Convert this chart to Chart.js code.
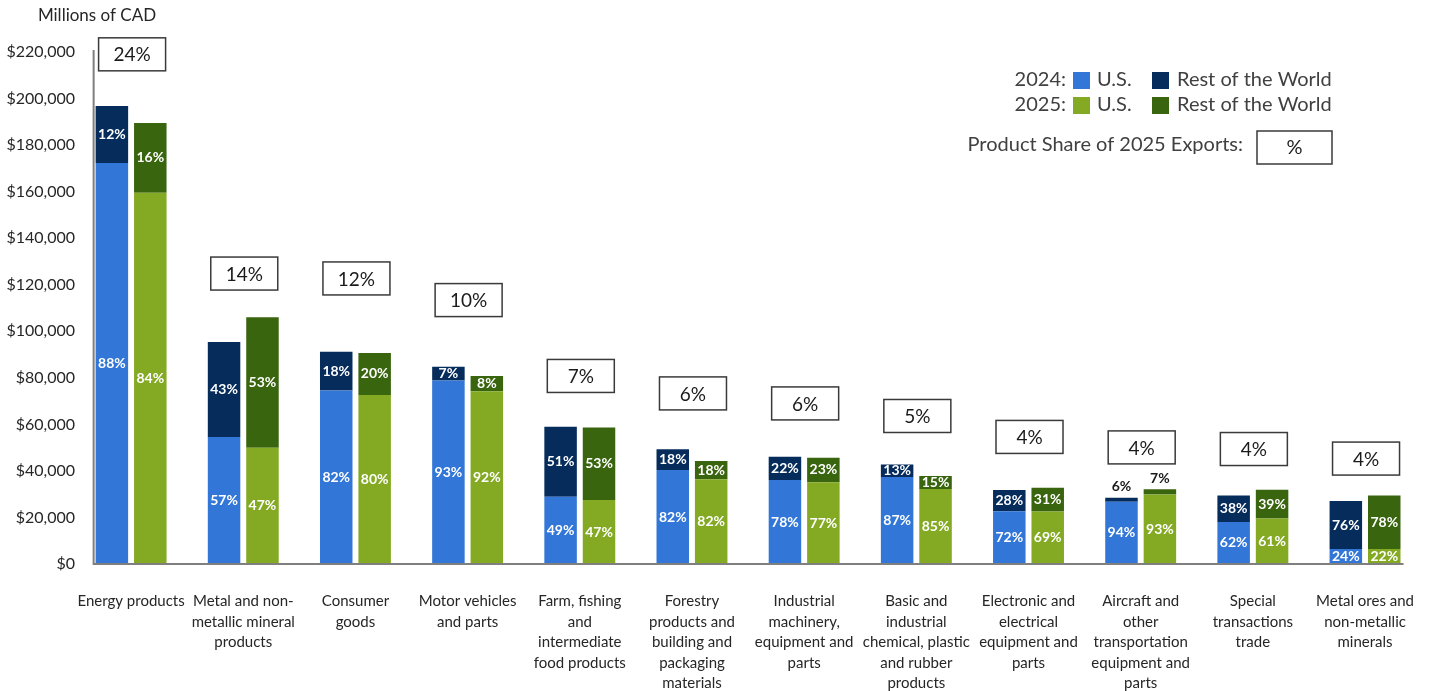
<!DOCTYPE html>
<html>
<head>
<meta charset="utf-8">
<title>Canadian exports by product, 2024 and 2025</title>
<script src="https://cdn.jsdelivr.net/npm/chart.js@4.4.1/dist/chart.umd.min.js"></script>
<style>
  html, body { margin: 0; padding: 0; background: #fff; }
  #wrap { width: 1441px; height: 691px; position: relative; }
</style>
</head>
<body>
<div id="wrap"><canvas id="exportsChart"></canvas></div>
<script>
// categories, each label split into its printed lines
const categories = [
  ['Energy products'],
  ['Metal and non-', 'metallic mineral', 'products'],
  ['Consumer', 'goods'],
  ['Motor vehicles', 'and parts'],
  ['Farm, fishing', 'and', 'intermediate', 'food products'],
  ['Forestry', 'products and', 'building and', 'packaging', 'materials'],
  ['Industrial', 'machinery,', 'equipment and', 'parts'],
  ['Basic and', 'industrial', 'chemical, plastic', 'and rubber', 'products'],
  ['Electronic and', 'electrical', 'equipment and', 'parts'],
  ['Aircraft and', 'other', 'transportation', 'equipment and', 'parts'],
  ['Special', 'transactions', 'trade'],
  ['Metal ores and', 'non-metallic', 'minerals']
];

// millions of CAD
const us2024  = [172300, 54600, 74600, 78800, 28900, 40400, 36100, 37400, 22700, 26700, 18100, 6400];
const row2024 = [24500, 40800, 16600, 6000, 30100, 8900, 10000, 5400, 9100, 1800, 11300, 20700];
const us2025  = [159500, 50000, 72600, 74200, 27500, 36400, 35100, 32200, 22600, 29900, 19500, 6400];
const row2025 = [30000, 56000, 18100, 6600, 31100, 7900, 10600, 5600, 10200, 2200, 12400, 23000];

// printed percentage labels
const pctUS2024  = [88, 57, 82, 93, 49, 82, 78, 87, 72, 94, 62, 24];
const pctRow2024 = [12, 43, 18, 7, 51, 18, 22, 13, 28, 6, 38, 76];
const pctUS2025  = [84, 47, 80, 92, 47, 82, 77, 85, 69, 93, 61, 22];
const pctRow2025 = [16, 53, 20, 8, 53, 18, 23, 15, 31, 7, 39, 78];
const share2025  = [24, 14, 12, 10, 7, 6, 6, 5, 4, 4, 4, 4];

const yTicks = [0, 20000, 40000, 60000, 80000, 100000, 120000, 140000, 160000, 180000, 200000, 220000];

// where each share box sits, in millions of CAD (y value of the box centre)
const shareBoxAt = [219000, 124800, 122700, 113400, 80800, 73300, 69000, 63600, 54600, 50100, 49400, 45300];

const FONT = 'Lato, "Open Sans", sans-serif';
const colors = {
  us2024: '#3276d8',
  row2024: '#062c5c',
  us2025: '#84aa24',
  row2025: '#3a650f'
};

const overlay = {
  id: 'overlay',
  afterDraw(chart) {
    const ctx = chart.ctx;
    const xs = chart.scales.x;
    const ys = chart.scales.y;
    ctx.save();

    // axis lines
    const firstBar = chart.getDatasetMeta(0).data[0];
    const lastBar = chart.getDatasetMeta(2).data[categories.length - 1];
    const axisLeft = firstBar.x - firstBar.width / 2 - 2;
    const axisRight = lastBar.x + lastBar.width / 2 + 3;
    const y0 = ys.getPixelForValue(0);
    ctx.strokeStyle = '#7f7f7f';
    ctx.lineWidth = 2;
    ctx.beginPath();
    ctx.moveTo(axisLeft, ys.getPixelForValue(220000) - 2);
    ctx.lineTo(axisLeft, y0);
    ctx.lineTo(axisRight, y0);
    ctx.stroke();

    // percentage labels in the bars
    const pctSets = [pctUS2024, pctRow2024, pctUS2025, pctRow2025];
    ctx.font = 'bold 14px ' + FONT;
    ctx.textAlign = 'center';
    ctx.textBaseline = 'middle';
    pctSets.forEach((pcts, di) => {
      chart.getDatasetMeta(di).data.forEach((bar, i) => {
        const top = Math.min(bar.y, bar.base);
        const bottom = Math.max(bar.y, bar.base);
        if (bottom - top < 10) {
          ctx.fillStyle = '#1a1a1a';
          ctx.fillText(pcts[i] + '%', bar.x, top - 11);
        } else {
          ctx.fillStyle = '#ffffff';
          ctx.fillText(pcts[i] + '%', bar.x, (top + bottom) / 2);
        }
      });
    });

    // product share boxes
    ctx.font = '19px ' + FONT;
    share2025.forEach((s, i) => {
      const cx = xs.getPixelForValue(i) + 1;
      const cy = ys.getPixelForValue(shareBoxAt[i]);
      ctx.fillStyle = '#fff';
      ctx.fillRect(cx - 33.5, cy - 16.5, 67, 33);
      ctx.strokeStyle = '#3a3a3a';
      ctx.lineWidth = 1.5;
      ctx.strokeRect(cx - 33.5, cy - 16.5, 67, 33);
      ctx.fillStyle = '#1a1a1a';
      ctx.fillText(s + '%', cx, cy + 1);
    });

    // unit title
    ctx.font = '17px ' + FONT;
    ctx.fillStyle = '#262626';
    ctx.fillText('Millions of CAD', 97, 16);

    // legend
    ctx.font = '20px ' + FONT;
    const rows = [
      { year: '2024:', y: 80, c1: colors.us2024, c2: colors.row2024 },
      { year: '2025:', y: 105, c1: colors.us2025, c2: colors.row2025 }
    ];
    rows.forEach(r => {
      ctx.fillStyle = '#404040';
      ctx.textAlign = 'right';
      ctx.fillText(r.year, 1066, r.y);
      ctx.textAlign = 'left';
      ctx.fillText('U.S.', 1097, r.y);
      ctx.fillText('Rest of the World', 1177, r.y);
      ctx.fillStyle = r.c1;
      ctx.fillRect(1073, r.y - 8, 17, 17);
      ctx.fillStyle = r.c2;
      ctx.fillRect(1152, r.y - 8, 17, 17);
    });
    ctx.fillStyle = '#404040';
    ctx.textAlign = 'right';
    ctx.fillText('Product Share of 2025 Exports:', 1243, 145);
    ctx.strokeStyle = '#3a3a3a';
    ctx.lineWidth = 1.5;
    ctx.strokeRect(1257, 131, 75, 33);
    ctx.textAlign = 'center';
    ctx.fillStyle = '#1a1a1a';
    ctx.fillText('%', 1294.5, 148);

    ctx.restore();
  }
};

const ctx = document.getElementById('exportsChart').getContext('2d');
new Chart(ctx, {
  type: 'bar',
  data: {
    labels: categories,
    datasets: [
      { label: '2024 U.S.', data: us2024, backgroundColor: colors.us2024, stack: '2024' },
      { label: '2024 Rest of the World', data: row2024, backgroundColor: colors.row2024, stack: '2024' },
      { label: '2025 U.S.', data: us2025, backgroundColor: colors.us2025, stack: '2025' },
      { label: '2025 Rest of the World', data: row2025, backgroundColor: colors.row2025, stack: '2025' }
    ]
  },
  options: {
    responsive: true,
    maintainAspectRatio: false,
    animation: false,
    categoryPercentage: 0.685,
    barPercentage: 0.846,
    layout: { padding: { top: 52, right: 0, bottom: 0, left: 0 } },
    plugins: {
      legend: { display: false },
      tooltip: { enabled: false }
    },
    scales: {
      x: {
        stacked: true,
        grid: { display: false, drawTicks: false },
        border: { display: false },
        ticks: {
          autoSkip: false,
          maxRotation: 0,
          padding: 27,
          color: '#262626',
          font: { family: FONT, size: 15, lineHeight: 1.37 }
        },
        afterFit(scale) { scale.height = 127; }
      },
      y: {
        stacked: true,
        min: 0,
        max: 220000,
        grid: { display: false, drawTicks: false },
        border: { display: false },
        afterBuildTicks(scale) { scale.ticks = yTicks.map(v => ({ value: v })); },
        ticks: {
          padding: 0,
          color: '#262626',
          font: { family: FONT, size: 16 },
          callback: v => '$' + v.toLocaleString('en-US')
        },
        afterFit(scale) { scale.width = 75; }
      }
    }
  },
  plugins: [overlay]
});
</script>
</body>
</html>
